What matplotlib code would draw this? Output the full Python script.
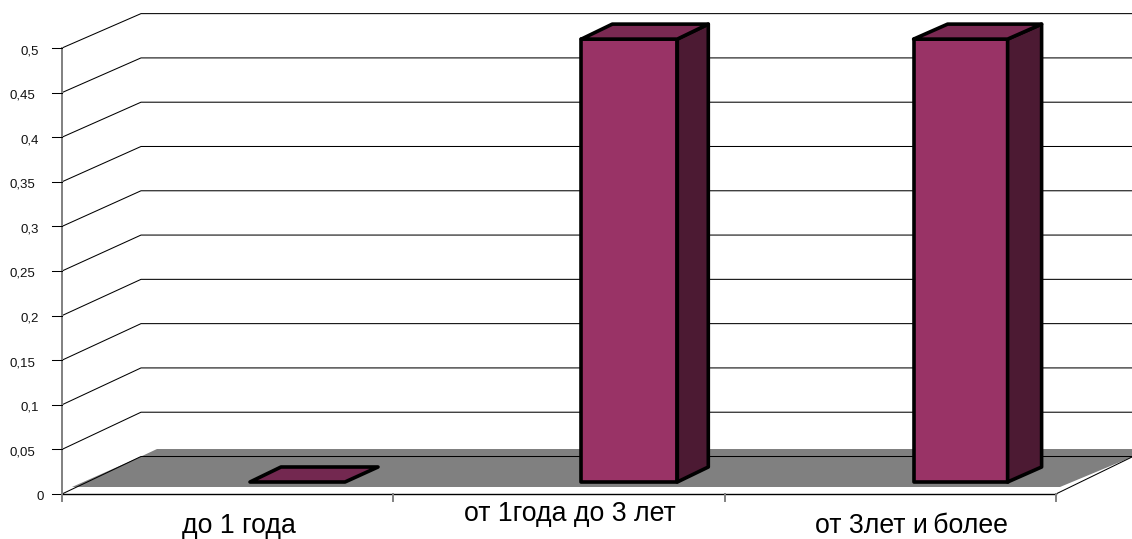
import matplotlib
matplotlib.use('Agg')
import matplotlib.pyplot as plt

plt.rcParams['font.family'] = ['Liberation Sans', 'DejaVu Sans']

categories = ['до 1 года', 'от 1года до 3 лет', 'от 3лет и\u2009более']
values = [0, 0.5, 0.5]
tick_values = [0, 0.05, 0.1, 0.15, 0.2, 0.25, 0.3, 0.35, 0.4, 0.45, 0.5]
tick_labels = ['0', '0,05', '0,1', '0,15', '0,2', '0,25', '0,3', '0,35', '0,4', '0,45', '0,5']

W, H = 1132, 539
X0, Y0 = 62, 494     # pixel of the chart origin
CAT_PX = 331.3       # px per category
VAL_PX = 892.0       # px per 1.0 on the value axis
BACK_SCALE = 0.993   # back wall and bars are a little shorter than the front axis


def px_x(p):
    return p / CAT_PX


def px_y(p):
    return p / VAL_PX


fig = plt.figure(figsize=(W / 100, H / 100), dpi=100)
ax = fig.add_axes([0, 0, 1, 1])
ax.set_xlim(-X0 / CAT_PX, (W - X0) / CAT_PX)
ax.set_ylim(-(H - Y0) / VAL_PX, Y0 / VAL_PX)
ax.axis('off')

wall_dx = px_x(79)
wall_dy = px_y(37.5)
right_end = (W - X0) / CAT_PX

# floor
floor_x = [px_x(10), wall_dx, px_x(95), right_end, right_end, px_x(998)]
floor_y = [px_y(7), wall_dy, px_y(45), px_y(45), px_y(37), px_y(7)]
ax.fill(floor_x, floor_y, color='#808080', lw=0, zorder=1)

# grid lines on side wall and back wall
for v in tick_values:
    back = v * BACK_SCALE + wall_dy
    ax.plot([0, wall_dx, right_end], [v, back, back], color='black', lw=0.75, zorder=2)

# right edge of floor
ax.plot([3, right_end], [0, px_y(37)], color='black', lw=0.75, zorder=2)

# axes lines
ax.plot([0, 0], [0, 0.5], color='#808080', lw=1.4, zorder=3)
ax.plot([0, 3], [0, 0], color='black', lw=1.0, zorder=3)
for v, lab in zip(tick_values, tick_labels):
    ax.plot([-px_x(10), 0], [v, v], color='black', lw=0.75, zorder=3)
    if len(lab) == 1:
        right = 18
    elif len(lab) == 3:
        right = 23
    else:
        right = 27
    ax.text(-px_x(right), v - px_y(3), lab, ha='right', va='center', fontsize=9.5, color='#111111')
for i in range(4):
    ax.plot([i, i], [0, -px_y(7)], color='#808080', lw=1.4, zorder=3)

# bars
bar_w = [px_x(95), px_x(96), px_x(94)]
bar_left = [px_x(188), 1 + px_x(188), 2 + px_x(189)]
bar_dx = [px_x(31), px_x(31), px_x(34)]
bar_dy = px_y(15)
bar_base = px_y(12)
for i, v in enumerate(values):
    left = bar_left[i]
    right = left + bar_w[i]
    dx = bar_dx[i]
    b = bar_base
    t = b + v * BACK_SCALE
    edge = dict(edgecolor='black', lw=2.6, joinstyle='round', zorder=5)
    if v > 0:
        ax.fill([left, right, right, left], [b, b, t, t], facecolor='#993366', **edge)
        ax.fill([right, right + dx, right + dx, right],
                [b, b + bar_dy, t + bar_dy, t], facecolor='#4c1a33', **edge)
        ax.fill([left, right, right + dx, left + dx],
                [t, t, t + bar_dy, t + bar_dy], facecolor='#7a2952', **edge)
    else:
        ax.fill([left, right, right + dx + px_x(2), left + dx],
                [b, b, b + bar_dy, b + bar_dy], facecolor='#732850', **edge)

# category labels
label_x = [px_x(239 - X0), px_x(570 - X0), px_x(911 - X0)]
label_y = [-px_y(32), -px_y(20), -px_y(32)]
for x, y, lab in zip(label_x, label_y, categories):
    ax.text(x, y, lab, ha='center', va='center', fontsize=19.2, color='black')

fig.savefig('out.png', dpi=100)
